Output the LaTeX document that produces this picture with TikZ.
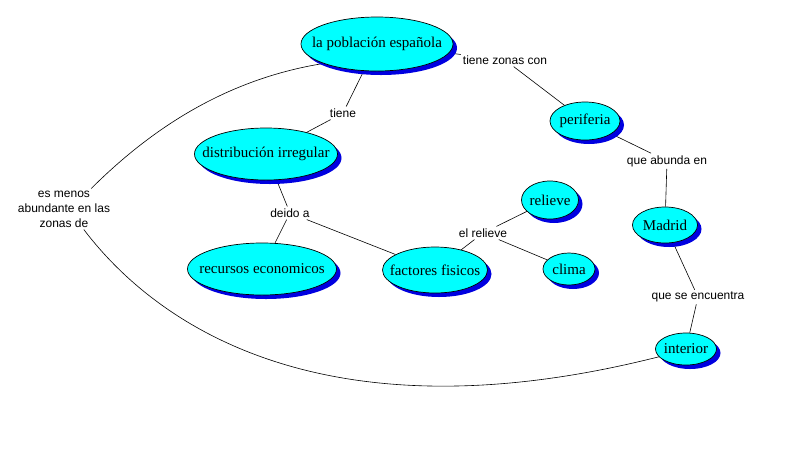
\documentclass[tikz,border=0pt]{standalone}
\usepackage{fontspec}
\setmainfont{Liberation Serif}
\setsansfont{Liberation Sans}
\usetikzlibrary{shapes.geometric, shadows, backgrounds}
\definecolor{conceptfill}{HTML}{00FFFF}
\definecolor{conceptshade}{HTML}{0000E0}
\newcommand{\ctext}[1]{\makebox[0pt]{#1}}
\tikzset{
  concept/.style={ellipse, draw=black, line width=0.7pt, fill=conceptfill, inner sep=0pt,
    font=\fontsize{15}{18}\selectfont,
    drop shadow={shadow xshift=4pt, shadow yshift=-4pt, fill=conceptshade, opacity=1}},
  linkword/.style={font=\sffamily\fontsize{12}{15}\selectfont, inner sep=2pt, align=center},
  link/.style={draw=black, line width=0.6pt}
}

\begin{document}
\begin{tikzpicture}[x=1pt, y=-1pt]
  \useasboundingbox (0,0) rectangle (788,459);

  \node[concept, minimum width=152, minimum height=54] (poblacion) at (377,44) {\ctext{la población española}};
  \node[concept, minimum width=143, minimum height=52] (distribucion) at (266,154) {\ctext{distribución irregular}};
  \node[concept, minimum width=149, minimum height=52] (recursos) at (262,269) {\ctext{recursos economicos}};
  \node[concept, minimum width=105, minimum height=46] (factores) at (435,270) {\ctext{factores fisicos}};
  \node[concept, minimum width=57, minimum height=38] (relieve) at (550,200) {\ctext{relieve}};
  \node[concept, minimum width=52, minimum height=32] (clima) at (569,269) {\ctext{clima}};
  \node[concept, minimum width=70, minimum height=38] (periferia) at (585,121) {\ctext{periferia}};
  \node[concept, minimum width=65, minimum height=36] (madrid) at (665,225) {\ctext{Madrid}};
  \node[concept, minimum width=61, minimum height=32] (interior) at (686,349) {\ctext{interior}};

  \node[linkword] (tienezonas) at (505,60) {tiene zonas con};
  \node[linkword] (tiene) at (343,113) {tiene};
  \node[linkword] (menos) at (64,209) {es menos\\abundante en las\\zonas de};
  \node[linkword] (deido) at (290,213) {deido a};
  \node[linkword] (elrelieve) at (483,233) {el relieve};
  \node[linkword] (abunda) at (667,161) {que abunda en};
  \node[linkword] (encuentra) at (698,297) {que se encuentra};

  \begin{scope}[on background layer]
    \fill[white] (0,0) rectangle (788,459);
    \draw[link] (poblacion) -- (tienezonas);
    \draw[link] (tienezonas) -- (periferia);
    \draw[link] (poblacion) -- (tiene);
    \draw[link] (tiene) -- (distribucion);
    \draw[link] (distribucion) -- (deido);
    \draw[link] (deido) -- (recursos);
    \draw[link] (deido) -- (factores);
    \draw[link] (factores) -- (elrelieve);
    \draw[link] (elrelieve) -- (relieve);
    \draw[link] (elrelieve) -- (clima);
    \draw[link] (periferia) -- (abunda);
    \draw[link] (abunda) -- (madrid);
    \draw[link] (madrid) -- (encuentra);
    \draw[link] (encuentra) -- (interior);
    \draw[link] (menos.37) .. controls (145,135) and (220,80) .. (poblacion.200);
    \draw[link] (menos.-46) .. controls (160,330) and (330,440) .. (interior.196);
  \end{scope}
\end{tikzpicture}
\end{document}
